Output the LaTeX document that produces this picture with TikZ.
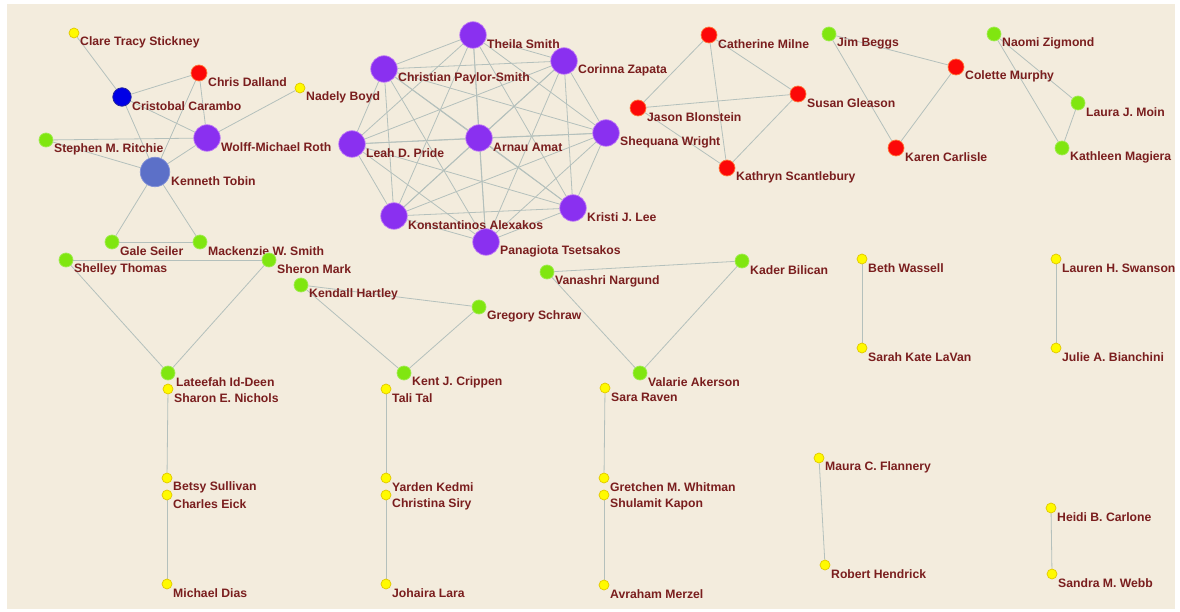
\documentclass[tikz,border=0pt]{standalone}
\usepackage{fontspec}
\setmainfont{Liberation Sans}
\pgfdeclarelayer{bgzero}
\pgfdeclarelayer{edges}
\pgfsetlayers{bgzero,edges,main}
\definecolor{bgbeige}{RGB}{243,236,221}
\definecolor{labred}{RGB}{122,30,30}
\definecolor{edgec}{RGB}{180,192,188}
\definecolor{purf}{RGB}{138,48,240}
\definecolor{purd}{RGB}{190,120,245}
\definecolor{redf}{RGB}{252,8,8}
\definecolor{redd}{RGB}{255,120,60}
\definecolor{grnf}{RGB}{128,230,16}
\definecolor{grnd}{RGB}{160,235,80}
\definecolor{yelf}{RGB}{255,250,0}
\definecolor{yeld}{RGB}{225,200,0}
\definecolor{bluf}{RGB}{0,0,230}
\definecolor{blud}{RGB}{40,40,150}
\definecolor{tobf}{RGB}{92,112,200}
\definecolor{tobd}{RGB}{130,145,215}
\tikzset{
  pers/.style={circle,inner sep=0pt,line width=0.7pt},
  purn/.style={pers,fill=purf,draw=purd,minimum size=26.5pt},
  tobn/.style={pers,fill=tobf,draw=tobd,minimum size=29.5pt},
  redn/.style={pers,fill=redf,draw=redd,minimum size=16pt},
  blun/.style={pers,fill=bluf,draw=blud,minimum size=18.5pt},
  grnn/.style={pers,fill=grnf,draw=grnd,minimum size=14pt},
  yeln/.style={pers,fill=yelf,draw=yeld,minimum size=10pt},
  lab/.style={anchor=west,inner sep=0pt,text=labred,font=\fontsize{12.2}{14}\selectfont\bfseries},
  edge/.style={draw=edgec,line width=0.8pt}
}
\newcommand{\pnode}[6]{%
  \node[#4] (#1) at (#2,#3) {};
  \node[lab] (#1-l) at (#2+#5+1,#3+9.5) {#6};
}
\begin{document}
\begin{tikzpicture}[x=1pt,y=-1pt]
\useasboundingbox (0,0) rectangle (1180,612);
\begin{pgfonlayer}{bgzero}
\fill[white] (0,0) rectangle (1180,612);
\fill[bgbeige] (7,4) rectangle (1175,609);
\end{pgfonlayer}
% top-left group
\pnode{clare}{74}{33}{yeln}{5}{Clare Tracy Stickney}
\pnode{chris}{199}{73}{redn}{8}{Chris Dalland}
\pnode{crist}{122}{97}{blun}{9}{Cristobal Carambo}
\pnode{nadely}{300}{88}{yeln}{5}{Nadely Boyd}
\pnode{wolff}{207}{138}{purn}{13}{Wolff-Michael Roth}
\pnode{steph}{46}{140}{grnn}{7}{Stephen M. Ritchie}
\pnode{tobin}{155}{172}{tobn}{15}{Kenneth Tobin}
\pnode{gale}{112}{242}{grnn}{7}{Gale Seiler}
\pnode{mack}{200}{242}{grnn}{7}{Mackenzie W. Smith}
\pnode{shelley}{66}{260}{grnn}{7}{Shelley Thomas}
\pnode{sheron}{269}{260}{grnn}{7}{Sheron Mark}
\pnode{lateefah}{168}{373}{grnn}{7}{Lateefah Id-Deen}
\pnode{sharon}{168}{389}{yeln}{5}{Sharon E. Nichols}
% purple clique
\pnode{theila}{473}{35}{purn}{13}{Theila Smith}
\pnode{corinna}{564}{61}{purn}{13}{Corinna Zapata}
\pnode{christian}{384}{69}{purn}{13}{Christian Paylor-Smith}
\pnode{leah}{352}{144}{purn}{13}{Leah D. Pride}
\pnode{arnau}{479}{138}{purn}{13}{Arnau Amat}
\pnode{shequana}{606}{133}{purn}{13}{Shequana Wright}
\pnode{konst}{394}{216}{purn}{13}{Konstantinos Alexakos}
\pnode{kristi}{573}{208}{purn}{13}{Kristi J. Lee}
\pnode{pana}{486}{242}{purn}{13}{Panagiota Tsetsakos}
% red group
\pnode{cath}{709}{35}{redn}{8}{Catherine Milne}
\pnode{jason}{638}{108}{redn}{8}{Jason Blonstein}
\pnode{susan}{798}{94}{redn}{8}{Susan Gleason}
\pnode{kathryn}{727}{168}{redn}{8}{Kathryn Scantlebury}
% top-right
\pnode{jim}{829}{34}{grnn}{7}{Jim Beggs}
\pnode{colette}{956}{67}{redn}{8}{Colette Murphy}
\pnode{karen}{896}{148}{redn}{8}{Karen Carlisle}
\pnode{naomi}{994}{34}{grnn}{7}{Naomi Zigmond}
\pnode{laura}{1078}{103}{grnn}{7}{Laura J. Moin}
\pnode{kathleen}{1062}{148}{grnn}{7}{Kathleen Magiera}
% middle triangles
\pnode{kendall}{301}{285}{grnn}{7}{Kendall Hartley}
\pnode{gregory}{479}{307}{grnn}{7}{Gregory Schraw}
\pnode{kent}{404}{373}{grnn}{7}{Kent J. Crippen}
\pnode{tali}{386}{389}{yeln}{5}{Tali Tal}
\pnode{vanashri}{547}{272}{grnn}{7}{Vanashri Nargund}
\pnode{kader}{742}{261}{grnn}{7}{Kader Bilican}
\pnode{valarie}{640}{373}{grnn}{7}{Valarie Akerson}
\pnode{sara}{605}{388}{yeln}{5}{Sara Raven}
% pairs
\pnode{beth}{862}{259}{yeln}{5}{Beth Wassell}
\pnode{sarah}{862}{348}{yeln}{5}{Sarah Kate LaVan}
\pnode{lauren}{1056}{259}{yeln}{5}{Lauren H. Swanson}
\pnode{julie}{1056}{348}{yeln}{5}{Julie A. Bianchini}
\pnode{maura}{819}{458}{yeln}{5}{Maura C. Flannery}
\pnode{robert}{825}{565}{yeln}{5}{Robert Hendrick}
\pnode{heidi}{1051}{508}{yeln}{5}{Heidi B. Carlone}
\pnode{sandra}{1052}{574}{yeln}{5}{Sandra M. Webb}
\pnode{betsy}{167}{478}{yeln}{5}{Betsy Sullivan}
\pnode{charles}{167}{495}{yeln}{5}{Charles Eick}
\pnode{michael}{167}{584}{yeln}{5}{Michael Dias}
\pnode{yarden}{386}{478}{yeln}{5}{Yarden Kedmi}
\pnode{christina}{386}{495}{yeln}{5}{Christina Siry}
\pnode{johaira}{386}{584}{yeln}{5}{Johaira Lara}
\pnode{gretchen}{604}{478}{yeln}{5}{Gretchen M. Whitman}
\pnode{shulamit}{604}{495}{yeln}{5}{Shulamit Kapon}
\pnode{avraham}{604}{585}{yeln}{5}{Avraham Merzel}
\begin{pgfonlayer}{edges}
\foreach \a/\b in {clare/crist, crist/chris, crist/wolff, crist/tobin, chris/wolff, chris/tobin,
  nadely/wolff, steph/wolff, steph/tobin, wolff/tobin, tobin/gale, tobin/mack, gale/mack,
  shelley/sheron, shelley/lateefah, sheron/lateefah,
  cath/jason, cath/susan, cath/kathryn, jason/susan, jason/kathryn, susan/kathryn,
  jim/colette, jim/karen, colette/karen, naomi/laura, naomi/kathleen, laura/kathleen,
  kendall/gregory, kendall/kent, gregory/kent,
  vanashri/kader, vanashri/valarie, kader/valarie,
  beth/sarah, lauren/julie, maura/robert, heidi/sandra,
  sharon/betsy, charles/michael, tali/yarden, christina/johaira, sara/gretchen, shulamit/avraham}
  {\draw[edge] (\a) -- (\b);}
\foreach \a/\i in {theila/1,corinna/2,christian/3,leah/4,arnau/5,shequana/6,konst/7,kristi/8,pana/9}{
  \foreach \b/\j in {theila/1,corinna/2,christian/3,leah/4,arnau/5,shequana/6,konst/7,kristi/8,pana/9}{
    \ifnum\i<\j \draw[edge] (\a) -- (\b); \fi
  }
}
\end{pgfonlayer}
\end{tikzpicture}
\end{document}
